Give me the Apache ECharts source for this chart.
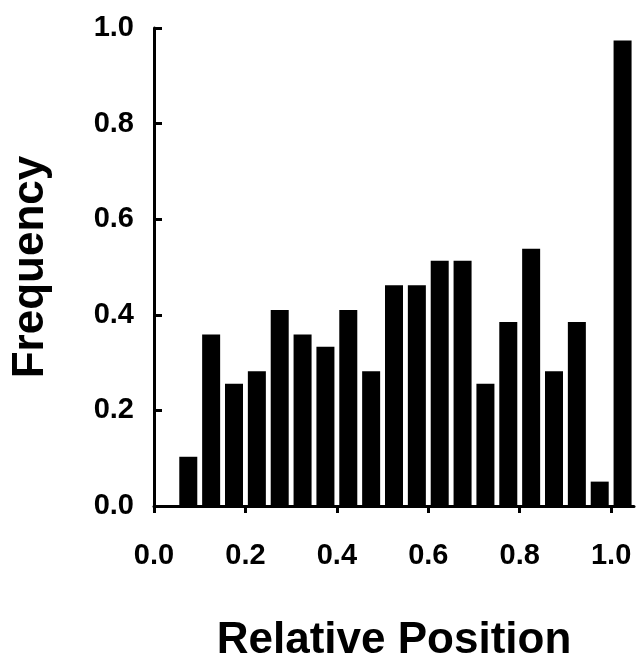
<!DOCTYPE html>
<html>
<head>
<meta charset="utf-8">
<script src="https://cdn.jsdelivr.net/npm/echarts@6/dist/echarts.min.js"></script>
<style>
html,body{margin:0;padding:0;background:#fff;}
#chart{width:636px;height:656px;}
</style>
</head>
<body>
<div id="chart"></div>
<script>
// Bin centers (relative position) and frequencies
var binCenters = [0.075, 0.125, 0.175, 0.225, 0.275, 0.325, 0.375, 0.425, 0.475, 0.525,
                  0.575, 0.625, 0.675, 0.725, 0.775, 0.825, 0.875, 0.925, 0.975, 1.025];
var frequencies = [0.103, 0.359, 0.256, 0.282, 0.410, 0.359, 0.333, 0.410, 0.282, 0.462,
                   0.462, 0.513, 0.513, 0.256, 0.385, 0.538, 0.282, 0.385, 0.051, 0.974];
var xTicks = [0.0, 0.2, 0.4, 0.6, 0.8, 1.0];
var yTicks = [0.0, 0.2, 0.4, 0.6, 0.8, 1.0];

var FONT = '"Liberation Sans", Arial, sans-serif';

var chart = echarts.init(document.getElementById('chart'), null, {renderer: 'canvas'});
chart.setOption({
  animation: false,
  backgroundColor: '#ffffff',
  grid: {left: 154, right: 2, top: 28, bottom: 150, containLabel: false, outerBoundsMode: 'none'},
  xAxis: {
    type: 'value',
    min: 0,
    max: 1.05,
    name: 'Relative Position',
    nameLocation: 'middle',
    nameGap: 113,
    nameTextStyle: {fontFamily: FONT, fontWeight: 'bold', fontSize: 44, color: '#000'},
    axisLine: {show: true, onZero: false, lineStyle: {color: '#000', width: 3}},
    axisTick: {show: true, inside: false, length: 7, customValues: xTicks, lineStyle: {color: '#000', width: 3}},
    axisLabel: {show: true, customValues: xTicks, margin: 35, fontFamily: FONT, fontWeight: 'bold', fontSize: 29, color: '#000',
      formatter: function (v) { return v.toFixed(1); }},
    splitLine: {show: false}
  },
  yAxis: {
    type: 'value',
    min: 0,
    max: 1,
    interval: 0.2,
    name: 'Frequency',
    nameLocation: 'middle',
    nameGap: 101,
    nameRotate: 90,
    nameTextStyle: {fontFamily: FONT, fontWeight: 'bold', fontSize: 44, color: '#000'},
    axisLine: {show: true, lineStyle: {color: '#000', width: 3}},
    axisTick: {show: true, inside: true, length: 8, customValues: yTicks, lineStyle: {color: '#000', width: 3}},
    axisLabel: {show: true, customValues: yTicks, margin: 20, fontFamily: FONT, fontWeight: 'bold', fontSize: 29, color: '#000',
      formatter: function (v) { return v.toFixed(1); }},
    splitLine: {show: false}
  },
  series: [{
    type: 'bar',
    data: binCenters.map(function (c, i) { return [c, frequencies[i]]; }),
    barWidth: 18,
    itemStyle: {color: '#000'},
    z: 1
  }]
});
</script>
</body>
</html>
